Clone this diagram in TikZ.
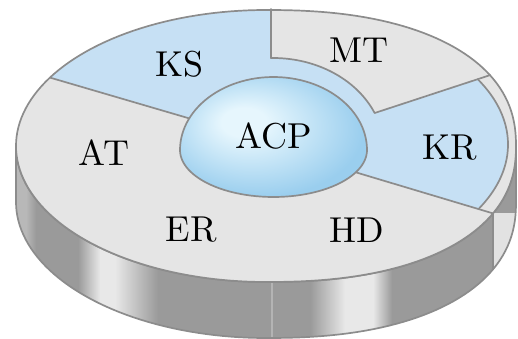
\documentclass[tikz,border=0pt]{standalone}
\usepackage{tikz}
\usepackage{graphicx}
\definecolor{topgray}{HTML}{E5E5E5}
\definecolor{kblue}{HTML}{C6E0F4}
\definecolor{edgegray}{HTML}{8C8C8C}
\definecolor{sidedark}{HTML}{9A9A9A}
\definecolor{sidehi}{HTML}{E8E8E8}
\definecolor{sidelt}{HTML}{B8B8B8}
\definecolor{sideline}{HTML}{B4B4B4}
\definecolor{sideR}{HTML}{E2E2E2}
\definecolor{domeA}{HTML}{E6F6FD}
\definecolor{domeB}{HTML}{9ACEEE}
\pgfdeclareradialshading{domeshade}{\pgfpoint{-9bp}{7bp}}{color(0bp)=(domeA); color(6bp)=(domeA); color(28bp)=(domeB); color(50bp)=(domeB)}
\newcommand{\biglbl}[1]{\scalebox{3.6}{#1}}
\begin{document}
\begin{tikzpicture}[x=1pt,y=-1pt,
  declare function={
    ox(\t)=266+250*cos(\t)*(cos(\t)<0 ? 1 : pow(abs(cos(\t))+0.00001,-0.13));
    oy(\t)=146-136*sin(\t)*(cos(\t)<0 ? 1 : pow(abs(sin(\t))+0.00001,-0.13));
  },
  toppath/.style={insert path={plot[domain=0:360,samples=181,variable=\t] ({ox(\t)},{oy(\t)}) -- cycle}},
  sidepath/.style={insert path={plot[domain=180:360,samples=91,variable=\t] ({ox(\t)},{oy(\t)}) -- plot[domain=360:180,samples=91,variable=\t] ({ox(\t)},{oy(\t)+56}) -- cycle}},
  edgeline/.style={draw=edgegray,line width=1.7pt,line join=round,line cap=round},
  lbl/.style={inner sep=0pt,font=\fontsize{10}{12}\selectfont,text=black}]
\useasboundingbox (0,0) rectangle (518,339);

\coordinate (o1) at ({ox(-26.5)},{oy(-26.5)});
\coordinate (o2) at ({ox(28.2)},{oy(28.2)});
\coordinate (o3) at ({ox(149.8)},{oy(149.8)});
\coordinate (m1) at (271,58);
\coordinate (m2) at (374.6,113);
\coordinate (k1) at (477.6,79.1);
\coordinate (k2) at (478.5,209);
\coordinate (d1) at (205,123);
\coordinate (d2) at (340,167.6);

% side of the disk
\begin{scope}
  \clip[sidepath];
  \fill[sidedark] (0,100) rectangle (520,345);
  \fill[sidelt] (10,100) rectangle (26,345);
  \shade[left color=sidelt,right color=sidedark] (26,100) rectangle (36,345);
  \shade[left color=sidedark,right color=sidehi] (78,100) rectangle (100,345);
  \fill[sidehi] (100,100) rectangle (115,345);
  \shade[left color=sidehi,right color=sidedark] (115,100) rectangle (158,345);
  \fill[sideline] (270.5,100) rectangle (273,345);
  \shade[left color=sidedark,right color=sidehi] (310,100) rectangle (345,345);
  \fill[sidehi] (345,100) rectangle (373,345);
  \shade[left color=sidehi,right color=sidedark] (373,100) rectangle (392,345);
  \fill[sideR] (o1) rectangle (520,345);
\end{scope}
\draw[edgeline][sidepath];
\draw[edgeline] (o1) -- ++(0,56);

% top surface
\fill[topgray][toppath];
\begin{scope}
  \clip[toppath];
  \fill[kblue] (10,65.8) -- (d1) -- (273,150) -- (d2) -- (540,227.5) -- (540,-20) -- (10,-20) -- cycle;
  \fill[topgray] (271,-20) -- (m1) -- plot[domain=91:23.7,samples=40,variable=\t] ({273+111*cos(\t)},{150-92*sin(\t)}) -- (540,58.5) -- (540,-20) -- cycle;
  \fill[topgray] (k1) -- (540,58.6) -- (540,227.4) -- (k2) -- plot[domain=-29:29.45,samples=40,variable=\t] ({273+235*cos(\t)},{144.5-133*sin(\t)}) -- cycle;
\end{scope}

% sector boundaries
\draw[edgeline] (o3) -- (d1);
\draw[edgeline] (271,9) -- (m1);
\draw[edgeline] plot[domain=91:23.7,samples=40,variable=\t] ({273+111*cos(\t)},{150-92*sin(\t)}) -- (o2);
\draw[edgeline] plot[domain=29.45:-29,samples=50,variable=\t] ({273+235*cos(\t)},{144.5-133*sin(\t)});
\draw[edgeline] (d2) -- (o1);
\draw[edgeline][toppath];

% dome
\path[shading=domeshade,draw=edgegray,line width=1.7pt]
  plot[domain=0:180,samples=60,variable=\t] ({273.5+93.5*cos(\t)},{150-73*sin(\t)})
  -- plot[domain=180:360,samples=60,variable=\t] ({273.5+93.5*cos(\t)},{150-47*sin(\t)}) -- cycle;

% labels
\node[lbl] (acp) at (274,136) {\biglbl{ACP}};
\node[lbl] (ks) at (180,64) {\biglbl{KS}};
\node[lbl] (mt) at (359,50) {\biglbl{MT}};
\node[lbl] (kr) at (450,148) {\biglbl{KR}};
\node[lbl] (at) at (104,153) {\biglbl{AT}};
\node[lbl] (er) at (191,230) {\biglbl{ER}};
\node[lbl] (hd) at (357,230) {\biglbl{HD}};
\end{tikzpicture}
\end{document}
